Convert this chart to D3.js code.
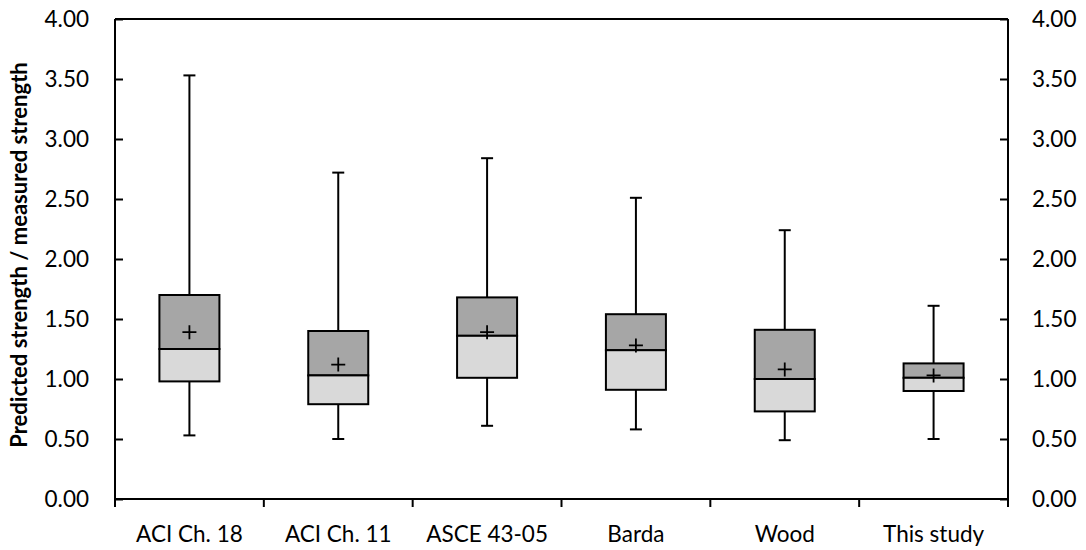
<!DOCTYPE html>
<html lang="en">
<head>
<meta charset="UTF-8">
<title>Box plot</title>
<script src="https://cdn.jsdelivr.net/npm/d3@7"></script>
<style>
  body { margin: 0; background: #fff; }
  text { font-family: Lato, "Open Sans", sans-serif; fill: #000; }
</style>
</head>
<body>
<script>
// data
var categories = ["ACI Ch. 18", "ACI Ch. 11", "ASCE 43-05", "Barda", "Wood", "This study"];
var whiskerLow  = [0.53, 0.50, 0.61, 0.58, 0.49, 0.50];
var quart1      = [0.98, 0.79, 1.01, 0.91, 0.73, 0.90];
var medians     = [1.25, 1.03, 1.36, 1.24, 1.00, 1.01];
var quart3      = [1.70, 1.40, 1.68, 1.54, 1.41, 1.13];
var whiskerHigh = [3.53, 2.72, 2.84, 2.51, 2.24, 1.61];
var means       = [1.39, 1.12, 1.39, 1.28, 1.08, 1.03];
var yTicks = [0, 0.5, 1, 1.5, 2, 2.5, 3, 3.5, 4];

var width = 1086, height = 550;
var plotL = 115, plotR = 1008, plotT = 19, plotB = 499;

var svg = d3.select("body").append("svg")
    .attr("width", width)
    .attr("height", height);

var x = d3.scaleBand().domain(categories).range([plotL, plotR]);
var y = d3.scaleLinear().domain([0, 4]).range([plotB, plotT]);

var rows = categories.map(function(c, i) {
  return {cat: c, lo: whiskerLow[i], q1: quart1[i], med: medians[i],
          q3: quart3[i], hi: whiskerHigh[i], mean: means[i]};
});

var boxW = 60, capW = 12;

var g = svg.selectAll("g.box").data(rows).enter().append("g")
    .attr("class", "box")
    .attr("transform", function(d) { return "translate(" + (x(d.cat) + x.bandwidth() / 2) + ",0)"; });

// whiskers
g.append("line").attr("x1", 0).attr("x2", 0)
  .attr("y1", function(d) { return y(d.hi); }).attr("y2", function(d) { return y(d.q3); })
  .attr("stroke", "#000").attr("stroke-width", 2);
g.append("line").attr("x1", 0).attr("x2", 0)
  .attr("y1", function(d) { return y(d.q1); }).attr("y2", function(d) { return y(d.lo); })
  .attr("stroke", "#000").attr("stroke-width", 2);
g.append("line").attr("x1", -capW / 2).attr("x2", capW / 2)
  .attr("y1", function(d) { return y(d.hi); }).attr("y2", function(d) { return y(d.hi); })
  .attr("stroke", "#000").attr("stroke-width", 2);
g.append("line").attr("x1", -capW / 2).attr("x2", capW / 2)
  .attr("y1", function(d) { return y(d.lo); }).attr("y2", function(d) { return y(d.lo); })
  .attr("stroke", "#000").attr("stroke-width", 2);

// boxes: upper part dark, lower part light
g.append("rect").attr("x", -boxW / 2).attr("width", boxW)
  .attr("y", function(d) { return y(d.q3); })
  .attr("height", function(d) { return y(d.med) - y(d.q3); })
  .attr("fill", "#a6a6a6").attr("stroke", "#000").attr("stroke-width", 2);
g.append("rect").attr("x", -boxW / 2).attr("width", boxW)
  .attr("y", function(d) { return y(d.med); })
  .attr("height", function(d) { return y(d.q1) - y(d.med); })
  .attr("fill", "#d9d9d9").attr("stroke", "#000").attr("stroke-width", 2);

// mean markers
g.append("path")
  .attr("d", function(d) { var m = y(d.mean); return "M-7," + m + "H7M0," + (m - 7) + "V" + (m + 7); })
  .attr("stroke", "#000").attr("stroke-width", 1.8).attr("fill", "none");

// frame top
svg.append("line").attr("x1", plotL).attr("x2", plotR).attr("y1", plotT).attr("y2", plotT)
  .attr("stroke", "#000").attr("stroke-width", 2);

// axes
var fmt = d3.format(".2f");
var yl = svg.append("g").attr("transform", "translate(" + plotL + ",0)")
  .call(d3.axisRight(y).tickValues(yTicks).tickFormat(fmt).tickSize(8).tickPadding(-34));
var yr = svg.append("g").attr("transform", "translate(" + plotR + ",0)")
  .call(d3.axisLeft(y).tickValues(yTicks).tickFormat(fmt).tickSize(8).tickPadding(-32));
yl.selectAll("text").attr("text-anchor", "end");
yr.selectAll("text").attr("text-anchor", "start");

var xa = svg.append("g").attr("transform", "translate(0," + plotB + ")")
  .call(d3.axisBottom(x).tickSize(0).tickPadding(27));
svg.append("g").selectAll("line").data(d3.range(categories.length + 1)).enter().append("line")
  .attr("x1", function(k) { return plotL + k * x.step(); })
  .attr("x2", function(k) { return plotL + k * x.step(); })
  .attr("y1", plotB).attr("y2", plotB + 8)
  .attr("stroke", "#000").attr("stroke-width", 2);

[yl, yr, xa].forEach(function(a) {
  a.selectAll("path.domain").attr("stroke", "#000").attr("stroke-width", 2);
  a.selectAll(".tick line").attr("stroke", "#000").attr("stroke-width", 2);
  a.selectAll("text").style("font-size", "22.5px").style("font-family", "Lato, 'Open Sans', sans-serif");
});
yl.select("path.domain").attr("d", "M0," + plotB + "V" + plotT);
yr.select("path.domain").attr("d", "M0," + plotB + "V" + plotT);
xa.select("path.domain").attr("d", "M" + plotL + ",0H" + plotR);

svg.append("text")
  .attr("transform", "translate(27,255) rotate(-90)")
  .attr("text-anchor", "middle")
  .style("font-size", "22px").style("font-weight", "bold")
  .text("Predicted strength / measured strength");
</script>
</body>
</html>
